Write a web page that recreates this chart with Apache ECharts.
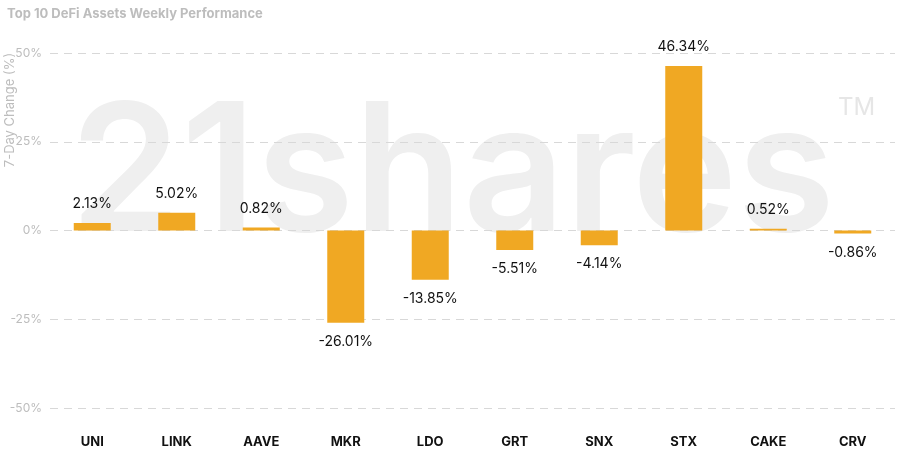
<!DOCTYPE html>
<html><head><meta charset="utf-8">
<script src="https://cdn.jsdelivr.net/npm/echarts@6/dist/echarts.min.js"></script>
<style>html,body{margin:0;padding:0;background:#fff}#c{width:900px;height:473px}</style>
</head><body><div id="c"></div>
<script>
const categories = ['UNI','LINK','AAVE','MKR','LDO','GRT','SNX','STX','CAKE','CRV'];
const values = [2.13,5.02,0.82,-26.01,-13.85,-5.51,-4.14,46.34,0.52,-0.86];
const yTicks = [-50,-25,0,25,50];
const chart = echarts.init(document.getElementById('c'));
chart.setOption({
  animation:false,
  title:{text:'Top 10 DeFi Assets Weekly Performance',left:2,top:3,textStyle:{fontFamily:'Inter',fontSize:13,fontWeight:'bold',color:'#bdbdbd'}},
  graphic:[
    {type:'text',left:70,top:88,z:-10,style:{text:'21shares',font:'600 178px Inter',fill:'#efefef'}},
    {type:'text',left:838,top:96,z:-10,style:{text:'TM',font:'24px Inter',fill:'#e6e6e6'}},
    {type:'text',x:10,y:110,rotation:Math.PI/2,style:{text:'7-Day Change (%)',font:'13px Inter',fill:'#bdbdbd',align:'center',verticalAlign:'middle'}}
  ],
  grid:{left:50,right:5,top:53,bottom:65},
  xAxis:{type:'category',data:categories,axisLine:{show:false},axisTick:{show:false},
    axisLabel:{margin:28,fontFamily:'Inter',fontSize:13,fontWeight:'bold',color:'#111'}},
  yAxis:{type:'value',min:yTicks[0],max:yTicks[yTicks.length-1],interval:25,
    axisLabel:{formatter:v=>v+'%',fontFamily:'Inter',fontSize:12,color:'#bdbdbd',margin:8},
    splitLine:{lineStyle:{type:[8,6],color:'#d8d8d8'}}},
  series:[{type:'bar',barWidth:37,itemStyle:{color:'#F0A823'},
    data:values.map(v=>({value:v,label:{position:v<0?'bottom':'top'}})),
    label:{show:true,formatter:p=>p.value.toFixed(2)+'%',fontFamily:'Inter',fontSize:14,color:'#111',distance:12}}]
});
</script></body></html>
